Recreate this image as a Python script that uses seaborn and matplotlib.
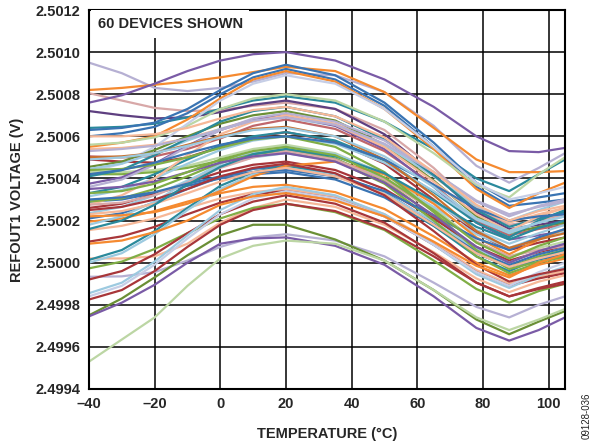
import numpy as np
import pandas as pd
import matplotlib
matplotlib.use("Agg")
import matplotlib.pyplot as plt
import seaborn as sns

# Temperatures (°C) at which each device curve was read
temps_c = [-40, -30, -20, -10, 0, 10, 20, 35, 50, 65, 78, 88, 97, 105]

# REFOUT1 offsets from 2.5000 V, in units of 100 uV, one row per device
refout_offsets = [
    [9.5, 9.0, 8.3, 8.15, 8.3, 8.6, 9.0, 8.9, 8.1, 6.5, 4.6, 3.8, 4.5, 5.2],
    [8.2, 8.3, 8.45, 8.6, 8.8, 9.05, 9.3, 9.1, 8.1, 6.4, 4.9, 4.3, 4.3, 4.35],
    [8.05, 7.7, 7.35, 7.2, 7.25, 7.45, 7.6, 7.3, 6.3, 4.5, 2.6, 1.8, 2.0, 2.3],
    [7.6, 7.95, 8.5, 9.1, 9.6, 9.9, 10.0, 9.6, 8.7, 7.4, 6.0, 5.3, 5.25, 5.45],
    [7.2, 7.0, 6.85, 6.9, 7.15, 7.5, 7.7, 7.3, 6.1, 4.2, 2.4, 1.6, 1.8, 2.0],
    [6.4, 6.45, 6.6, 6.9, 7.3, 7.7, 7.9, 7.6, 6.7, 5.4, 4.0, 3.4, 4.2, 4.9],
    [6.3, 6.4, 6.65, 7.3, 8.2, 9.0, 9.4, 8.9, 7.6, 5.7, 3.8, 2.9, 3.1, 3.3],
    [6.0, 6.15, 6.45, 7.1, 8.0, 8.8, 9.2, 8.7, 7.45, 5.5, 3.6, 2.7, 2.85, 3.0],
    [5.5, 5.7, 6.0, 6.8, 7.8, 8.7, 9.1, 8.6, 7.3, 5.4, 3.5, 2.6, 3.3, 3.8],
    [5.4, 5.45, 5.6, 5.9, 6.35, 6.8, 7.0, 6.6, 5.6, 4.1, 2.6, 1.9, 2.3, 2.6],
    [5.6, 5.7, 5.95, 6.5, 7.3, 7.8, 8.0, 7.7, 6.7, 5.2, 3.7, 3.1, 4.2, 5.0],
    [4.3, 4.7, 5.5, 6.6, 7.7, 8.5, 8.9, 8.5, 7.3, 5.5, 3.8, 3.0, 3.3, 3.6],
    [5.05, 5.0, 5.05, 5.4, 5.9, 6.5, 6.8, 6.35, 5.3, 3.7, 2.0, 1.3, 1.6, 1.8],
    [4.9, 4.8, 4.75, 5.0, 5.5, 5.95, 6.2, 5.75, 4.7, 3.0, 1.4, 0.6, 0.95, 1.2],
    [4.55, 4.8, 5.35, 6.0, 6.6, 7.0, 7.2, 6.75, 5.6, 3.9, 2.2, 1.4, 1.7, 1.9],
    [4.45, 4.7, 5.2, 5.8, 6.35, 6.75, 6.9, 6.5, 5.6, 4.1, 2.7, 2.0, 2.5, 2.9],
    [4.3, 4.3, 4.4, 4.6, 5.0, 5.4, 5.6, 5.2, 4.2, 2.6, 1.0, 0.3, 0.7, 1.0],
    [4.2, 4.2, 4.3, 4.5, 4.85, 5.2, 5.4, 4.95, 3.9, 2.2, 0.6, -0.2, 0.3, 0.6],
    [4.1, 4.4, 5.1, 5.9, 6.7, 7.2, 7.4, 6.95, 5.85, 4.15, 2.5, 1.7, 2.1, 2.4],
    [3.75, 4.05, 4.7, 5.55, 6.3, 6.8, 7.0, 6.5, 5.4, 3.6, 1.9, 1.1, 1.3, 1.5],
    [3.6, 3.95, 4.65, 5.5, 6.3, 6.85, 7.1, 6.7, 5.8, 4.3, 2.9, 2.2, 2.7, 3.0],
    [3.3, 3.6, 4.2, 4.9, 5.55, 6.0, 6.2, 5.8, 4.85, 3.35, 1.9, 1.2, 2.0, 2.5],
    [3.15, 3.45, 4.0, 4.7, 5.35, 5.8, 6.0, 5.65, 4.75, 3.4, 2.05, 1.4, 1.9, 2.2],
    [2.9, 3.0, 3.3, 3.65, 4.0, 4.2, 4.3, 3.95, 3.1, 1.75, 0.45, -0.2, 0.15, 0.4],
    [2.75, 3.2, 4.0, 5.1, 6.1, 6.7, 7.0, 6.55, 5.5, 3.85, 2.3, 1.5, 2.2, 2.6],
    [2.6, 2.8, 3.25, 3.8, 4.3, 4.65, 4.8, 4.4, 3.5, 2.1, 0.75, 0.1, 0.5, 0.8],
    [2.35, 2.65, 3.2, 3.9, 4.6, 5.0, 5.2, 4.85, 4.0, 2.65, 1.35, 0.7, 1.2, 1.5],
    [2.1, 2.35, 2.85, 3.5, 4.05, 4.45, 4.6, 4.2, 3.35, 1.9, 0.55, -0.1, 0.4, 0.7],
    [1.95, 2.1, 2.45, 2.9, 3.3, 3.6, 3.7, 3.35, 2.55, 1.25, 0.0, -0.6, -0.1, 0.2],
    [1.8, 2.2, 2.9, 3.85, 4.7, 5.25, 5.5, 5.15, 4.25, 2.9, 1.55, 0.9, 1.4, 1.8],
    [1.55, 1.75, 2.1, 2.6, 3.05, 3.35, 3.5, 3.15, 2.3, 0.95, -0.35, -1.0, -0.65, -0.4],
    [1.0, 1.25, 1.7, 2.3, 2.85, 3.25, 3.4, 3.05, 2.2, 0.85, -0.45, -1.1, -0.75, -0.5],
    [0.2, 0.2, 0.3, 0.9, 1.9, 2.6, 3.0, 2.65, 1.8, 0.5, -0.75, -1.4, -0.9, -0.6],
    [0.13, 0.6, 1.5, 2.6, 3.65, 4.3, 4.6, 4.2, 3.25, 1.75, 0.3, -0.4, 0.2, 0.6],
    [0.0, 0.45, 1.35, 2.5, 3.5, 4.2, 4.5, 4.15, 3.3, 1.95, 0.65, 0.0, 0.55, 0.9],
    [-0.27, 0.05, 0.65, 1.4, 2.1, 2.6, 2.8, 2.4, 1.55, 0.1, -1.25, -1.9, -1.35, -1.0],
    [-0.67, -0.65, -0.45, 0.1, 0.75, 1.2, 1.35, 1.05, 0.3, -0.95, -2.1, -2.6, -2.0, -1.6],
    [-0.8, -0.4, 0.4, 1.4, 2.3, 2.9, 3.2, 2.8, 1.9, 0.45, -0.95, -1.6, -1.25, -1.0],
    [-1.45, -0.95, 0.05, 1.3, 2.5, 3.25, 3.6, 3.2, 2.3, 0.85, -0.55, -1.2, -0.6, -0.2],
    [-1.6, -1.1, -0.1, 1.15, 2.3, 3.05, 3.4, 3.05, 2.2, 0.85, -0.45, -1.1, -0.45, 0.0],
    [-1.75, -1.3, -0.4, 0.75, 1.8, 2.5, 2.8, 2.45, 1.6, 0.3, -0.95, -1.6, -1.2, -0.9],
    [-2.5, -1.7, -0.7, 0.35, 1.3, 1.8, 1.8, 1.1, 0.1, -1.3, -2.7, -3.4, -2.8, -2.3],
    [-2.55, -1.9, -1.05, 0.0, 0.9, 1.15, 1.2, 0.8, -0.1, -1.6, -3.1, -3.7, -3.2, -2.6],
    [-4.7, -3.65, -2.6, -1.1, 0.2, 0.8, 1.05, 0.9, 0.1, -1.3, -2.6, -3.2, -2.7, -2.2],
    [2.9, 3.05, 3.5, 4.1, 4.75, 5.15, 5.3, 4.85, 3.75, 2.0, 0.3, -0.5, 0.0, 0.3],
    [2.2, 2.25, 2.4, 2.8, 3.4, 4.1, 4.6, 4.8, 4.2, 2.8, 1.2, 0.4, 1.1, 1.6],
    [2.75, 2.85, 3.2, 3.8, 4.5, 5.0, 5.3, 4.9, 3.95, 2.45, 1.0, 0.3, 0.6, 0.8],
    [3.0, 3.1, 3.35, 3.75, 4.1, 4.3, 4.4, 4.1, 3.4, 2.25, 1.15, 0.6, 1.2, 1.6],
    [5.0, 5.05, 5.2, 5.6, 6.0, 6.35, 6.45, 6.0, 4.9, 3.2, 1.5, 0.7, 1.1, 1.4],
    [4.4, 4.45, 4.65, 5.0, 5.45, 5.85, 6.0, 5.5, 4.3, 2.4, 0.6, -0.3, 0.05, 0.3],
    [2.3, 2.45, 2.8, 3.3, 3.85, 4.3, 4.5, 4.1, 3.25, 1.8, 0.45, -0.2, 0.2, 0.5],
    [2.5, 2.65, 3.0, 3.5, 4.1, 4.5, 4.7, 4.25, 3.2, 1.5, -0.1, -0.9, -0.55, -0.3],
    [5.3, 5.4, 5.55, 5.9, 6.3, 6.75, 6.9, 6.55, 5.65, 4.3, 2.95, 2.3, 2.65, 2.9],
    [4.2, 4.4, 4.75, 5.2, 5.6, 5.9, 6.0, 5.7, 4.9, 3.7, 2.55, 2.0, 2.2, 2.3],
    [1.6, 2.0, 2.75, 3.7, 4.55, 5.15, 5.4, 5.05, 4.25, 2.95, 1.7, 1.1, 1.65, 2.0],
    [6.0, 6.0, 6.1, 6.4, 6.85, 7.25, 7.4, 6.95, 5.95, 4.3, 2.75, 2.0, 2.45, 2.7],
    [0.9, 1.05, 1.45, 2.0, 2.75, 3.15, 3.3, 2.95, 2.2, 1.0, -0.15, -0.7, 0.0, 0.4],
    [3.5, 3.6, 3.85, 4.3, 4.75, 5.05, 5.2, 4.8, 3.8, 2.25, 0.75, 0.0, 0.55, 0.9],
    [3.3, 3.4, 3.75, 4.3, 4.9, 5.3, 5.5, 5.1, 4.05, 2.5, 0.95, 0.2, 0.8, 1.2],
    [4.9, 5.0, 5.2, 5.55, 5.95, 6.3, 6.4, 6.0, 5.05, 3.6, 2.1, 1.5, 1.9, 2.2],
]

# colour name of each device curve
device_colors = [
    "lavender", "orange", "dustypink", "purple", "darkpurple", "teal", "blue", "blue",
    "orange", "peach", "lightgreen", "lavblue", "dustyred", "red", "olive", "lightblue",
    "lightgreen", "green", "teal", "purple", "lavender", "teal", "lightblue", "blue",
    "peach", "red", "lightblue", "blue", "orange", "lightblue", "peach", "red",
    "peach", "teal", "lightblue", "green", "lavender", "red", "lightblue", "lavblue",
    "red", "olive", "purple", "lightgreen", "green", "orange", "dustypink", "blue",
    "brownorange", "green", "peach", "red", "lavender", "blue", "teal", "peach",
    "orange", "purple", "green", "lightblue",
]

color_hex = {
    "purple": "#7A5BA6", "darkpurple": "#5E3F80", "orange": "#F58A30", "blue": "#3A74B3",
    "teal": "#2B8A9C", "green": "#80AE46", "red": "#A8363A", "lavender": "#B6B0D3",
    "lightgreen": "#BCD6A4", "lightblue": "#9DCAE0", "peach": "#F6B898",
    "dustypink": "#D8A8A8", "olive": "#6A8F36", "brownorange": "#C8702E",
    "lavblue": "#C6CEE6", "dustyred": "#C0676B",
}

x_ticks = [-40, -20, 0, 20, 40, 60, 80, 100]
x_tick_labels = ["\u201340", "\u201320", "0", "20", "40", "60", "80", "100"]
y_ticks = [2.4994, 2.4996, 2.4998, 2.5000, 2.5002, 2.5004, 2.5006, 2.5008, 2.5010, 2.5012]
y_tick_labels = ["2.4994", "2.4996", "2.4998", "2.5000", "2.5002", "2.5004",
                 "2.5006", "2.5008", "2.5010", "2.5012"]

rows = []
for i, vals in enumerate(refout_offsets):
    for t, v in zip(temps_c, vals):
        rows.append({"device": f"D{i+1:02d}", "temp": t, "volt": 2.5 + v * 1e-4})
df = pd.DataFrame(rows)
palette = {f"D{i+1:02d}": color_hex[c] for i, c in enumerate(device_colors)}

sns.set_theme(style="white")
plt.rcParams["font.family"] = ["Liberation Sans", "DejaVu Sans"]

fig = plt.figure(figsize=(5.92, 4.46), dpi=100)
ax = fig.add_axes([89 / 592, 1 - 389 / 446, (565 - 89) / 592, (389 - 10) / 446])

# grid
for xt in x_ticks:
    ax.axvline(xt, color="black", lw=1.1, zorder=0)
for yt in y_ticks:
    ax.axhline(yt, color="black", lw=1.1, zorder=0)

sns.lineplot(data=df, x="temp", y="volt", hue="device", palette=palette,
             estimator=None, legend=False, lw=1.6, ax=ax, zorder=2)

ax.set_xlim(-40, 105)
ax.set_ylim(2.4994, 2.5012)
ax.set_xticks(x_ticks)
ax.set_xticklabels(x_tick_labels, fontsize=10.5, fontweight="bold")
ax.set_yticks(y_ticks)
ax.set_yticklabels(y_tick_labels, fontsize=10.5, fontweight="bold")
ax.tick_params(length=0, pad=6)
for s in ax.spines.values():
    s.set_color("black")
    s.set_linewidth(1.5)
    s.set_zorder(5)

ax.set_xlabel("TEMPERATURE (\u00b0C)", fontsize=10.5, fontweight="bold", labelpad=11)
ax.set_ylabel("REFOUT1 VOLTAGE (V)", fontsize=10.5, fontweight="bold", labelpad=8)

# white label box
ax.text(0.018, 0.963, "60 DEVICES SHOWN", transform=ax.transAxes, fontsize=10.5,
        fontweight="bold", ha="left", va="center", zorder=6,
        bbox=dict(boxstyle="square,pad=0.45", facecolor="white", edgecolor="none"))

fig.text(587 / 592, 1 - 416 / 446, "09128-036", rotation=90, fontsize=7,
         ha="center", va="center", color="#222222")

fig.savefig("out.png", dpi=100)
